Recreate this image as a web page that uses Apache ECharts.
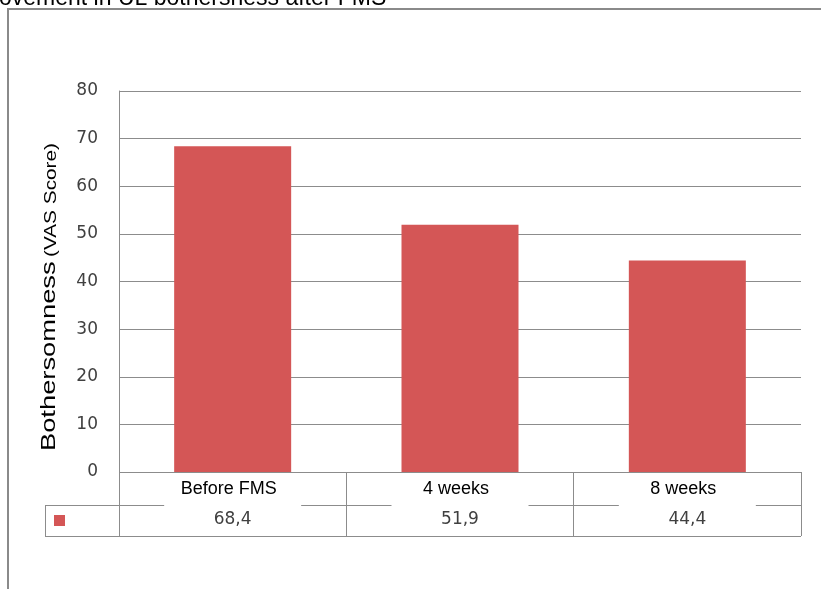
<!DOCTYPE html>
<html>
<head>
<meta charset="utf-8">
<script src="https://cdn.jsdelivr.net/npm/echarts@6/dist/echarts.min.js"></script>
<style>
  html, body { margin: 0; padding: 0; background: #fff; }
  #chart { width: 821px; height: 589px; }
</style>
</head>
<body>
<div id="chart"></div>
<script>
// Bothersomness (VAS) before FMS and at follow-up
const categories = ['Before FMS', '4 weeks', '8 weeks'];
const vasScores = [68.4, 51.9, 44.4];
const yTicks = { min: 0, max: 80, interval: 10 };

const chartTitle = 'Improvement in UL bothersness after FMS';
const yTitleMain = 'Bothersomness';
const yTitleSub = '(VAS Score)';

const barColor = '#d45656';
const lineColor = '#8c8c8c';

// table geometry under the plot
const plotLeft = 119, plotRight = 801, plotTop = 91, plotBottom = 472;
const rowMid = 505, rowEnd = 536, keyLeft = 45;

const chart = echarts.init(document.getElementById('chart'), null, { renderer: 'canvas' });

const fmt = v => v.toFixed(1).replace('.', ',');

chart.setOption({
  animation: false,
  backgroundColor: '#fff',
  grid: {
    left: plotLeft,
    right: 821 - plotRight,
    top: plotTop,
    bottom: 589 - plotBottom
  },
  xAxis: [
    {
      type: 'category',
      data: categories,
      z: 10,
      axisLine: { show: false },
      axisTick: {
        show: true,
        alignWithLabel: false,
        length: rowEnd - plotBottom,
        lineStyle: { color: lineColor, width: 1 }
      },
      axisLabel: {
        interval: 0,
        margin: 1,
        color: '#000',
        fontFamily: 'Liberation Sans, Arial, sans-serif',
        fontSize: 18,
        lineHeight: 20,
        backgroundColor: '#fff',
        width: 129,
        align: 'center',
        padding: [6, 8, 7, 0]
      }
    },
    {
      type: 'category',
      data: categories,
      position: 'bottom',
      offset: rowMid - plotBottom,
      axisLine: { show: false },
      axisTick: { show: false },
      axisLabel: {
        interval: 0,
        margin: 6,
        color: '#404040',
        fontFamily: 'DejaVu Sans, sans-serif',
        fontSize: 17,
        formatter: (name) => fmt(vasScores[categories.indexOf(name)])
      }
    }
  ],
  yAxis: {
    type: 'value',
    min: yTicks.min,
    max: yTicks.max,
    interval: yTicks.interval,
    axisLine: { show: true, lineStyle: { color: lineColor, width: 1 } },
    axisTick: { show: false },
    splitLine: { show: true, lineStyle: { color: lineColor, width: 1 } },
    axisLabel: {
      margin: 21,
      color: '#404040',
      fontFamily: 'DejaVu Sans, sans-serif',
      fontSize: 17
    }
  },
  series: [
    {
      type: 'bar',
      xAxisIndex: 0,
      data: vasScores,
      barWidth: 117,
      itemStyle: { color: barColor }
    }
  ],
  graphic: [
    // outer frame, running off the right and bottom edges
    {
      type: 'rect',
      z: 0,
      shape: { x: 8, y: 9, width: 900, height: 700 },
      style: { fill: 'none', stroke: '#8a8a8a', lineWidth: 2 }
    },
    // title, partly outside the canvas
    {
      type: 'text',
      z: 1,
      x: -47,
      y: -1,
      style: {
        text: chartTitle,
        font: '23px "Liberation Sans", Arial, sans-serif',
        fill: '#000',
        align: 'left',
        verticalAlign: 'middle'
      }
    },
    // y-axis title
    {
      type: 'text',
      z: 1,
      x: 49,
      y: 297,
      rotation: Math.PI / 2,
      scaleX: 1.3,
      style: {
        text: '{a|' + yTitleMain + '} {b|' + yTitleSub + '}',
        align: 'center',
        verticalAlign: 'middle',
        fill: '#000',
        rich: {
          a: { fontSize: 21, fontFamily: 'Liberation Sans, Arial, sans-serif', fill: '#000' },
          b: { fontSize: 16, fontFamily: 'Liberation Sans, Arial, sans-serif', fill: '#000', verticalAlign: 'bottom' }
        }
      }
    },
    // data table rules
    {
      type: 'line', z: 1,
      shape: { x1: keyLeft, y1: rowMid + 0.5, x2: plotRight, y2: rowMid + 0.5 },
      style: { stroke: lineColor, lineWidth: 1 }
    },
    {
      type: 'line', z: 1,
      shape: { x1: keyLeft, y1: rowEnd + 0.5, x2: plotRight, y2: rowEnd + 0.5 },
      style: { stroke: lineColor, lineWidth: 1 }
    },
    {
      type: 'line', z: 1,
      shape: { x1: keyLeft + 0.5, y1: rowMid, x2: keyLeft + 0.5, y2: rowEnd },
      style: { stroke: lineColor, lineWidth: 1 }
    },
    // legend key
    {
      type: 'rect', z: 1,
      shape: { x: 54, y: 515, width: 11, height: 11 },
      style: { fill: barColor }
    }
  ]
});
</script>
</body>
</html>
